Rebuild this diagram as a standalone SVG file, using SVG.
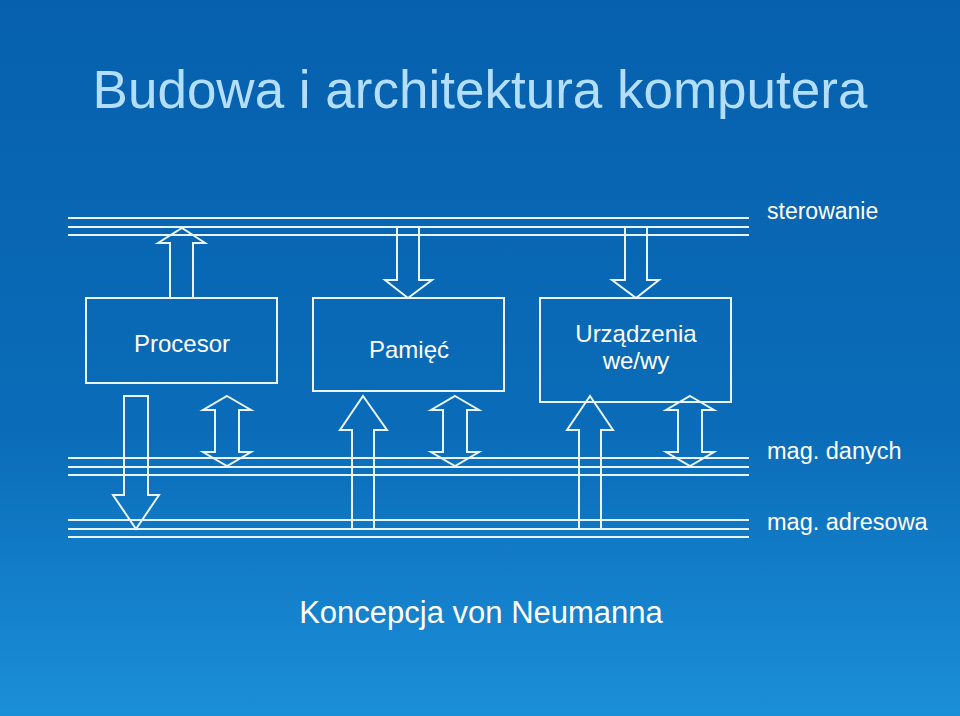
<svg xmlns="http://www.w3.org/2000/svg" width="960" height="716" viewBox="0 0 960 716">
<defs>
<linearGradient id="bg" x1="0" y1="0" x2="0" y2="1"><stop offset="0" stop-color="#0660ad"/><stop offset="0.6" stop-color="#0a6cb8"/><stop offset="1" stop-color="#1b8ed8"/></linearGradient>
<style>
.s{fill:none;stroke:#e8f4ff;stroke-width:2}
.t{font-family:"Liberation Sans",Arial,sans-serif;fill:#ffffff}
</style>
</defs>
<rect width="960" height="716" fill="url(#bg)"/>
<text x="480" y="108" text-anchor="middle" font-family="Liberation Sans,Arial,sans-serif" font-size="53" fill="#b4deff">Budowa i architektura komputera</text>
<g id="connectors">
<path class="s" d="M68 218H749M68 227H749M68 235H749M68 458H749M68 467H749M68 475H749M68 520H749M68 529H749M68 537H749"/>
<path class="s" d="M170 298V243H158L182 228L205 243H193V298Z"/>
<path class="s" d="M397 227V280H385L408 298L432 280H419V227"/>
<path class="s" d="M625 227V280H612L636 298L659 280H647V227"/>
<path class="s" d="M124 396H148V495H159L136 529L113 495H124Z"/>
<path class="s" d="M227 396L251 410H239V452H251L227 466L203 452H215V410H203Z"/>
<path class="s" d="M455 396L479 410H467V452H479L455 466L431 452H443V410H431Z"/>
<path class="s" d="M690 396L714 410H702V452H714L690 466L666 452H678V410H666Z"/>
<path class="s" d="M352 529V430H340L363 396L387 430H374V529"/>
<path class="s" d="M579 529V430H567L590 396L613 430H601V529"/>
</g>
<g id="procesor"><rect class="s" x="86" y="298" width="191" height="85"/><text class="t" x="182" y="352" text-anchor="middle" font-size="24">Procesor</text></g>
<g id="pamiec"><rect class="s" x="313" y="298" width="191" height="93"/><text class="t" x="409" y="358" text-anchor="middle" font-size="24">Pamięć</text></g>
<g id="urzadzenia"><rect class="s" x="540" y="298" width="191" height="104"/><text class="t" x="636" y="342" text-anchor="middle" font-size="24">Urządzenia</text><text class="t" x="636" y="369" text-anchor="middle" font-size="24">we/wy</text></g>
<text class="t" x="767" y="219" font-size="23">sterowanie</text>
<text class="t" x="767" y="459" font-size="23.5">mag. danych</text>
<text class="t" x="767" y="530" font-size="23.5">mag. adresowa</text>
<text class="t" x="481" y="623" text-anchor="middle" font-size="31">Koncepcja von Neumanna</text>
</svg>
